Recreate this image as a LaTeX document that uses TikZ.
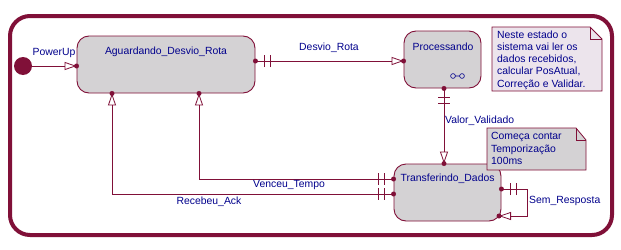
\documentclass[tikz,border=0pt]{standalone}
\usepackage{fontspec}
\setmainfont{Liberation Sans}
\usetikzlibrary{arrows.meta,decorations.markings,calc}
\definecolor{mar}{RGB}{128,16,56}
\definecolor{txt}{RGB}{0,0,140}
\definecolor{stfill}{RGB}{212,210,212}
\definecolor{nonefill}{RGB}{236,228,236}
\definecolor{ntwofill}{RGB}{212,210,212}
\begin{document}
\begin{tikzpicture}[x=1pt,y=-1pt,
  every node/.style={font=\fontsize{10.4}{12.2}\selectfont, text=txt, inner sep=0pt},
  state/.style={draw=mar, fill=stfill, rounded corners=12pt, line width=0.9pt},
  tr/.style={draw=mar, line width=0.8pt},
  arr/.style={-{Triangle[open,length=12pt,width=8pt]}},
  bars/.style={postaction={decorate}, decoration={markings, mark=at position 9pt with {\draw[-,mar,line width=0.8pt] (0pt,-6pt)--(0pt,6pt) (6pt,-6pt)--(6pt,6pt);}}},
  dotc/.style={fill=mar},
  notebox/.style={draw=mar, line width=0.8pt, line join=miter}
 ]
\useasboundingbox (0,0) rectangle (621,249);
\fill[white] (0,0) rectangle (621,249);
% outer frame
\draw[mar, line width=4pt, rounded corners=20pt] (10,16) rectangle (612,235);

% states
\node[state, minimum width=178pt, minimum height=57pt] (agu) at (166,64.5) {};
\node (agul) at (166,52) {Aguardando\_Desvio\_Rota};
\node[state, minimum width=77pt, minimum height=57pt] (proc) at (442.5,59.5) {};
\node (procl) at (443,47) {Processando};
\node[state, minimum width=107pt, minimum height=57pt] (tra) at (447.5,192.5) {};
\node[anchor=west] (tral) at (400.5,179) {Transferindo\_Dados};
\draw[txt, line width=0.6pt] (453,76) circle (2.4) (462,76) circle (2.4) (455.4,76)--(459.6,76);

% initial state
\node[circle, fill=mar, minimum size=18pt] (init) at (23,66) {};

% coordinates for bends
\coordinate (dr) at (330,61);
\coordinate (vv) at (444,120);
\coordinate (vt) at (199,179);
\coordinate (ra) at (112,194);
\coordinate (sra) at (527,189);
\coordinate (srb) at (527,216);

% transitions
\draw[tr, arr] (init.east) -- (agu.west |- init);
\fill[dotc] (agu.west |- init) circle (2.5);

\draw[tr, arr, bars] (agu.east |- dr) -- (proc.west |- dr);
\fill[dotc] (agu.east |- dr) circle (2.5) (proc.west |- dr) circle (2.5);

\draw[tr, arr, bars] (proc.south -| vv) -- (tra.north -| vv);
\fill[dotc] (proc.south -| vv) circle (2.5) (tra.north -| vv) circle (2.5);

\draw[tr, arr, bars] (tra.west |- vt) -- (vt) -- (agu.south -| vt);
\fill[dotc] (tra.west |- vt) circle (2.5) (agu.south -| vt) circle (2.5);

\draw[tr, arr, bars] (tra.west |- ra) -- (ra) -- (agu.south -| ra);
\fill[dotc] (tra.west |- ra) circle (2.5) (agu.south -| ra) circle (2.5);

\coordinate (srend) at (499,216);
\draw[tr, arr, bars] (tra.east |- sra) -- (sra) -- (srb) -- (srend);
\fill[dotc] (tra.east |- sra) circle (2.5) (srend) circle (2.5);

% labels
\node (lpu) at (54,53) {PowerUp};
\node (ldr) at (329,48) {Desvio\_Rota};
\node[anchor=west] (lvv) at (445,121) {Valor\_Validado};
\node (lvt) at (289,184.5) {Venceu\_Tempo};
\node (lra) at (209,202) {Recebeu\_Ack};
\node[anchor=west] (lsr) at (529,201) {Sem\_Resposta};

% note 1
\draw[notebox, fill=nonefill] (492,27) -- (590,27) -- (602,39) -- (602,91) -- (492,91) -- cycle;
\draw[notebox] (590,27) -- (590,39) -- (602,39);
\node[anchor=north west, align=left] (nte) at (497,30.5) {Neste estado o\\sistema vai ler os\\dados recebidos,\\calcular PosAtual,\\Correção e Validar.};

% note 2
\draw[notebox, fill=ntwofill] (487,128) -- (576,128) -- (586,140) -- (586,170) -- (487,170) -- cycle;
\draw[notebox] (576,128) -- (576,140) -- (586,140);
\node[anchor=north west, align=left, font=\fontsize{10.4}{12.6}\selectfont] (ntt) at (491,132) {Começa contar\\Temporização\\100ms};
\end{tikzpicture}
\end{document}
